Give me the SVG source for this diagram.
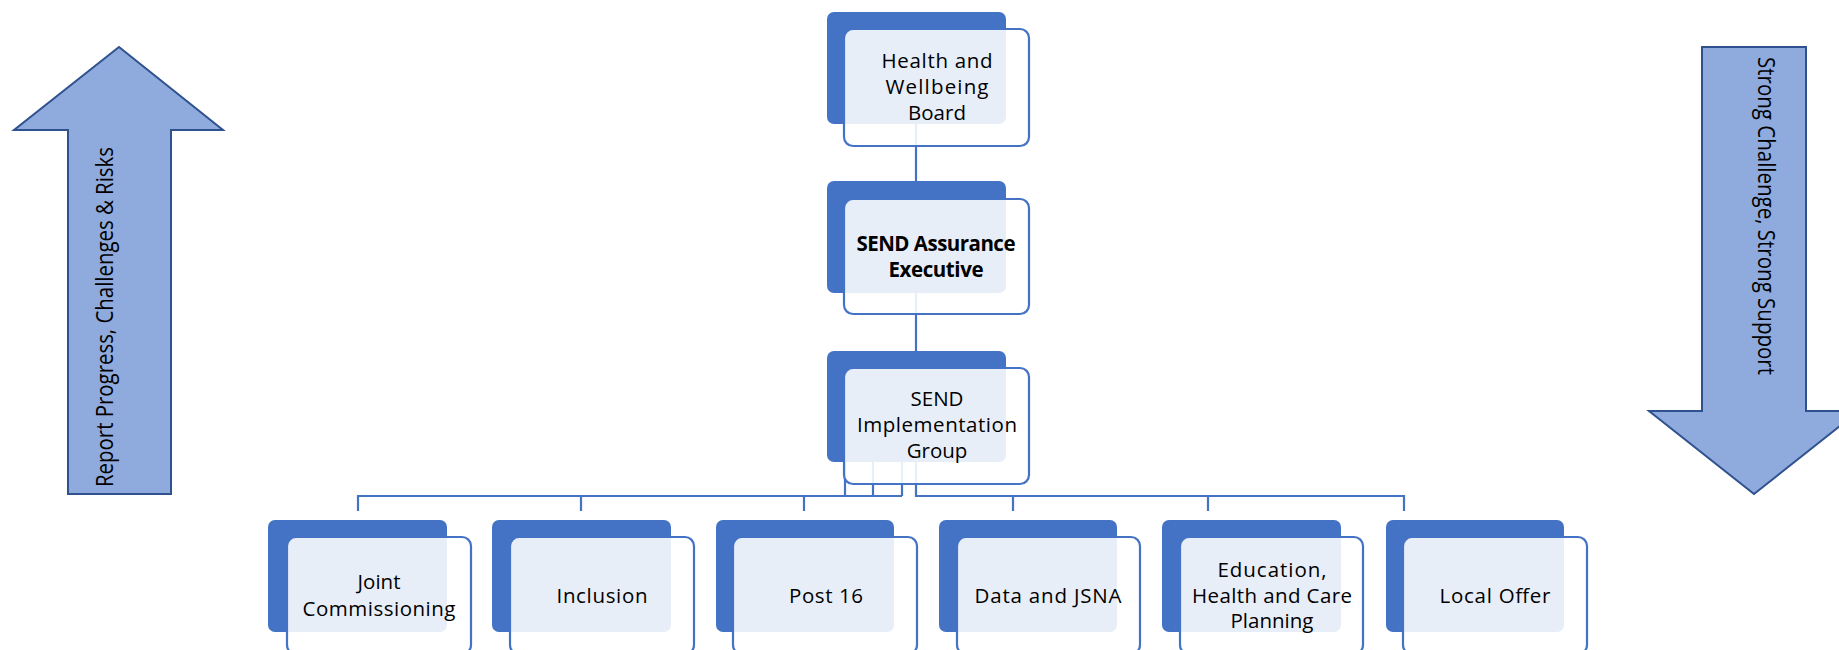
<svg xmlns="http://www.w3.org/2000/svg" width="1839" height="650" viewBox="0 0 1839 650">
<style>
.bg{fill:#4472C4}
.fg{fill:#FFFFFF;fill-opacity:0.88;stroke:#4472C4;stroke-width:2.2}
.t{font-family:"Open Sans","Liberation Sans",sans-serif;font-size:20.5px;fill:#000;text-anchor:middle}
.b{font-weight:bold;font-size:20.5px}
.arrow{fill:#8FAADC;stroke:#2F528F;stroke-width:2}
.at{font-family:"Open Sans","Liberation Sans",sans-serif;font-size:23.5px;fill:#000;text-anchor:middle}
.c{fill:none;stroke:#4472C4;stroke-width:2.2}
</style>
<rect width="1839" height="650" fill="#FFFFFF"/>
<g id="arrow-up">
<polygon class="arrow" points="119,47 223,130 171,130 171,494 68,494 68,130 14,130"/>
<text class="at" transform="translate(113,317) rotate(-90)" textLength="340" lengthAdjust="spacingAndGlyphs">Report Progress, Challenges &amp; Risks</text>
</g>
<g id="arrow-down">
<polygon class="arrow" points="1702,47 1806,47 1806,411 1859,411 1754,494 1649,411 1702,411"/>
<text class="at" transform="translate(1758,216) rotate(90)" textLength="318" lengthAdjust="spacingAndGlyphs">Strong Challenge, Strong Support</text>
</g>
<g id="connectors">
<path class="c" d="M916,124 V181 M916,293 V351"/>
<path class="c" d="M845,462 V496 M873,462 V496 M902,462 V496 M358,511 V496 H902 M581,496 V511 M804,496 V511"/>
<path class="c" d="M916,462 V496 H1404 V511 M1013,496 V511 M1208,496 V511"/>
</g>
<g id="n-hwb">
<rect class="bg" x="827" y="12" width="179" height="112" rx="7"/>
<rect class="fg" x="844" y="29" width="185" height="117" rx="9"/>
<text class="t"><tspan x="937" y="68" textLength="111">Health and</tspan><tspan x="937" y="94" textLength="103">Wellbeing</tspan><tspan x="937" y="120">Board</tspan></text>
</g>
<g id="n-assurance">
<rect class="bg" x="827" y="181" width="179" height="112" rx="7"/>
<rect class="fg" x="844" y="199" width="185" height="115" rx="9"/>
<text class="t b"><tspan x="936" y="251" textLength="159">SEND Assurance</tspan><tspan x="936" y="277" textLength="95">Executive</tspan></text>
</g>
<g id="n-implementation">
<rect class="bg" x="827" y="351" width="179" height="111" rx="7"/>
<rect class="fg" x="844" y="368" width="185" height="116" rx="9"/>
<text class="t"><tspan x="937" y="406">SEND</tspan><tspan x="937" y="432" textLength="160">Implementation</tspan><tspan x="937" y="458">Group</tspan></text>
</g>
<g id="n-joint">
<rect class="bg" x="268" y="520" width="179" height="112" rx="7"/>
<rect class="fg" x="287" y="537" width="184" height="117" rx="9"/>
<text class="t"><tspan x="379" y="589">Joint</tspan><tspan x="379" y="616" textLength="153">Commissioning</tspan></text>
</g>
<g id="n-inclusion">
<rect class="bg" x="492" y="520" width="179" height="112" rx="7"/>
<rect class="fg" x="510" y="537" width="184" height="117" rx="9"/>
<text class="t" x="602" y="603" textLength="91">Inclusion</text>
</g>
<g id="n-post16">
<rect class="bg" x="716" y="520" width="178" height="112" rx="7"/>
<rect class="fg" x="733" y="537" width="184" height="117" rx="9"/>
<text class="t" x="826" y="603" textLength="74">Post 16</text>
</g>
<g id="n-data">
<rect class="bg" x="939" y="520" width="178" height="112" rx="7"/>
<rect class="fg" x="957" y="537" width="183" height="117" rx="9"/>
<text class="t" x="1048" y="603" textLength="147">Data and JSNA</text>
</g>
<g id="n-ehcp">
<rect class="bg" x="1162" y="520" width="179" height="112" rx="7"/>
<rect class="fg" x="1180" y="537" width="183" height="117" rx="9"/>
<text class="t"><tspan x="1272" y="577" textLength="109">Education,</tspan><tspan x="1272" y="603" textLength="160">Health and Care</tspan><tspan x="1272" y="628">Planning</tspan></text>
</g>
<g id="n-local">
<rect class="bg" x="1386" y="520" width="178" height="112" rx="7"/>
<rect class="fg" x="1403" y="537" width="184" height="117" rx="9"/>
<text class="t" x="1495" y="603" textLength="111">Local Offer</text>
</g>
</svg>
